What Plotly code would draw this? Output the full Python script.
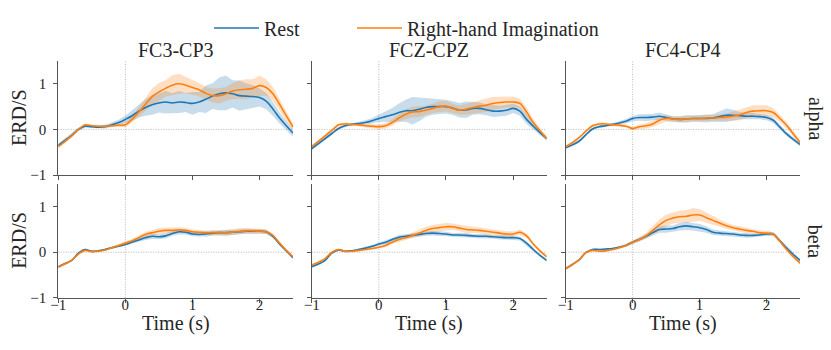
import numpy as np
import plotly.graph_objects as go

# ---------------- data ----------------
TIME = [round(-1.0 + 0.1 * i, 1) for i in range(36)]
CHANNELS = ["FC3-CP3", "FCZ-CPZ", "FC4-CP4"]
BANDS = ["alpha", "beta"]
SERIES = ["Rest", "Right-hand Imagination"]

# alpha band, mean curves
alpha_fc3_rest = [-0.35, -0.24, -0.13, 0.00, 0.07, 0.06, 0.05, 0.06, 0.10, 0.15,
                  0.22, 0.30, 0.40, 0.48, 0.54, 0.58, 0.60, 0.58, 0.60, 0.59,
                  0.57, 0.60, 0.66, 0.73, 0.78, 0.80, 0.78, 0.74, 0.73, 0.72,
                  0.70, 0.62, 0.45, 0.25, 0.08, -0.08]
alpha_fc3_imag = [-0.38, -0.26, -0.14, 0.00, 0.10, 0.08, 0.07, 0.07, 0.08, 0.09,
                  0.10, 0.22, 0.38, 0.55, 0.72, 0.82, 0.90, 0.97, 1.00, 0.97,
                  0.92, 0.87, 0.79, 0.74, 0.74, 0.78, 0.84, 0.87, 0.88, 0.90,
                  0.96, 0.92, 0.78, 0.55, 0.30, 0.05]
alpha_fcz_rest = [-0.42, -0.31, -0.20, -0.09, 0.02, 0.08, 0.11, 0.13, 0.15, 0.19,
                  0.24, 0.28, 0.32, 0.37, 0.41, 0.41, 0.44, 0.48, 0.50, 0.50,
                  0.50, 0.47, 0.42, 0.43, 0.46, 0.46, 0.43, 0.40, 0.40, 0.42,
                  0.46, 0.40, 0.22, 0.07, -0.07, -0.20]
alpha_fcz_imag = [-0.38, -0.26, -0.14, -0.02, 0.10, 0.12, 0.11, 0.10, 0.08, 0.07,
                  0.06, 0.08, 0.15, 0.25, 0.33, 0.38, 0.39, 0.42, 0.46, 0.50,
                  0.51, 0.46, 0.42, 0.44, 0.48, 0.51, 0.53, 0.57, 0.59, 0.60,
                  0.60, 0.57, 0.38, 0.15, -0.03, -0.20]
alpha_fc4_rest = [-0.40, -0.34, -0.26, -0.12, 0.01, 0.06, 0.08, 0.11, 0.14, 0.18,
                  0.24, 0.26, 0.26, 0.27, 0.29, 0.26, 0.23, 0.22, 0.23, 0.24,
                  0.24, 0.24, 0.25, 0.28, 0.31, 0.31, 0.30, 0.29, 0.29, 0.28,
                  0.26, 0.20, 0.05, -0.10, -0.22, -0.33]
alpha_fc4_imag = [-0.38, -0.29, -0.18, -0.04, 0.08, 0.12, 0.12, 0.10, 0.09, 0.07,
                  0.02, 0.06, 0.08, 0.12, 0.20, 0.24, 0.23, 0.22, 0.23, 0.24,
                  0.24, 0.25, 0.25, 0.26, 0.27, 0.29, 0.32, 0.37, 0.40, 0.41,
                  0.41, 0.37, 0.24, 0.09, -0.10, -0.28]

# beta band, mean curves
beta_fc3_rest = [-0.32, -0.25, -0.18, -0.02, 0.06, 0.02, 0.03, 0.06, 0.10, 0.13,
                 0.17, 0.22, 0.27, 0.32, 0.35, 0.34, 0.36, 0.41, 0.45, 0.44,
                 0.40, 0.39, 0.40, 0.42, 0.43, 0.43, 0.44, 0.45, 0.46, 0.46,
                 0.46, 0.45, 0.35, 0.18, 0.03, -0.12]
beta_fc3_imag = [-0.33, -0.26, -0.18, -0.04, 0.04, 0.01, 0.02, 0.05, 0.10, 0.15,
                 0.20, 0.25, 0.32, 0.39, 0.43, 0.46, 0.48, 0.48, 0.49, 0.48,
                 0.45, 0.44, 0.43, 0.43, 0.43, 0.43, 0.44, 0.46, 0.47, 0.47,
                 0.46, 0.45, 0.37, 0.20, 0.04, -0.10]
beta_fcz_rest = [-0.32, -0.26, -0.18, -0.02, 0.05, 0.02, 0.03, 0.06, 0.09, 0.13,
                 0.18, 0.22, 0.28, 0.33, 0.35, 0.37, 0.39, 0.41, 0.42, 0.41,
                 0.40, 0.38, 0.38, 0.37, 0.36, 0.35, 0.35, 0.34, 0.33, 0.32,
                 0.32, 0.30, 0.20, 0.06, -0.07, -0.18]
beta_fcz_imag = [-0.28, -0.22, -0.14, 0.00, 0.06, 0.02, 0.02, 0.04, 0.06, 0.08,
                 0.11, 0.15, 0.22, 0.28, 0.32, 0.37, 0.42, 0.48, 0.52, 0.54,
                 0.56, 0.56, 0.53, 0.50, 0.49, 0.48, 0.46, 0.44, 0.42, 0.40,
                 0.40, 0.44, 0.36, 0.18, 0.03, -0.10]
beta_fc4_rest = [-0.36, -0.27, -0.17, -0.01, 0.06, 0.06, 0.07, 0.08, 0.11, 0.15,
                 0.22, 0.28, 0.35, 0.43, 0.50, 0.51, 0.52, 0.56, 0.58, 0.56,
                 0.54, 0.50, 0.44, 0.42, 0.41, 0.40, 0.38, 0.37, 0.37, 0.38,
                 0.40, 0.40, 0.25, 0.09, -0.05, -0.18]
beta_fc4_imag = [-0.36, -0.27, -0.17, -0.01, 0.04, 0.02, 0.03, 0.06, 0.10, 0.15,
                 0.22, 0.28, 0.36, 0.48, 0.60, 0.70, 0.75, 0.78, 0.79, 0.82,
                 0.82, 0.76, 0.70, 0.64, 0.58, 0.54, 0.51, 0.48, 0.46, 0.43,
                 0.42, 0.40, 0.24, 0.06, -0.10, -0.24]

# half-widths of the shaded spread
alpha_fc3_rest_sd = [0.04, 0.04, 0.04, 0.04, 0.03, 0.03, 0.03, 0.04, 0.05, 0.06,
                     0.08, 0.11, 0.14, 0.18, 0.22, 0.21, 0.25, 0.22, 0.24, 0.21,
                     0.25, 0.22, 0.30, 0.28, 0.36, 0.38, 0.30, 0.33, 0.28, 0.25,
                     0.20, 0.18, 0.15, 0.12, 0.10, 0.08]
alpha_fc3_imag_sd = [0.04, 0.04, 0.04, 0.03, 0.03, 0.03, 0.03, 0.03, 0.04, 0.04,
                     0.05, 0.07, 0.10, 0.14, 0.18, 0.20, 0.18, 0.22, 0.22, 0.18,
                     0.16, 0.15, 0.14, 0.15, 0.17, 0.15, 0.18, 0.20, 0.22, 0.20,
                     0.22, 0.18, 0.15, 0.12, 0.10, 0.08]
alpha_fcz_rest_sd = [0.04, 0.04, 0.04, 0.04, 0.03, 0.03, 0.03, 0.04, 0.05, 0.06,
                     0.08, 0.12, 0.15, 0.20, 0.24, 0.30, 0.26, 0.20, 0.18, 0.17,
                     0.15, 0.15, 0.16, 0.18, 0.14, 0.13, 0.12, 0.13, 0.12, 0.12,
                     0.10, 0.10, 0.10, 0.08, 0.06, 0.05]
alpha_fcz_imag_sd = [0.04, 0.04, 0.03, 0.03, 0.03, 0.03, 0.03, 0.03, 0.04, 0.04,
                     0.05, 0.06, 0.07, 0.08, 0.10, 0.12, 0.12, 0.10, 0.10, 0.12,
                     0.12, 0.10, 0.10, 0.12, 0.13, 0.14, 0.15, 0.14, 0.13, 0.12,
                     0.12, 0.10, 0.10, 0.08, 0.06, 0.05]
alpha_fc4_rest_sd = [0.03, 0.03, 0.03, 0.03, 0.03, 0.03, 0.03, 0.03, 0.04, 0.05,
                     0.06, 0.07, 0.08, 0.07, 0.08, 0.07, 0.06, 0.07, 0.08, 0.07,
                     0.08, 0.09, 0.08, 0.12, 0.15, 0.12, 0.08, 0.07, 0.07, 0.06,
                     0.06, 0.06, 0.05, 0.05, 0.05, 0.04]
alpha_fc4_imag_sd = [0.03, 0.03, 0.03, 0.03, 0.03, 0.03, 0.03, 0.03, 0.03, 0.03,
                     0.04, 0.05, 0.06, 0.07, 0.08, 0.07, 0.06, 0.06, 0.07, 0.06,
                     0.06, 0.07, 0.06, 0.07, 0.08, 0.10, 0.12, 0.12, 0.13, 0.12,
                     0.12, 0.10, 0.08, 0.07, 0.06, 0.05]
beta_fc3_rest_sd = [0.02, 0.02, 0.02, 0.02, 0.02, 0.02, 0.02, 0.02, 0.03, 0.03,
                    0.03, 0.04, 0.04, 0.05, 0.06, 0.05, 0.06, 0.05, 0.06, 0.05,
                    0.05, 0.05, 0.06, 0.05, 0.06, 0.07, 0.06, 0.05, 0.06, 0.05,
                    0.05, 0.05, 0.04, 0.04, 0.03, 0.03]
beta_fc3_imag_sd = [0.02, 0.02, 0.02, 0.02, 0.02, 0.02, 0.02, 0.02, 0.03, 0.03,
                    0.04, 0.04, 0.05, 0.06, 0.06, 0.07, 0.06, 0.07, 0.06, 0.06,
                    0.05, 0.05, 0.05, 0.06, 0.05, 0.06, 0.06, 0.07, 0.06, 0.06,
                    0.06, 0.05, 0.04, 0.04, 0.03, 0.03]
beta_fcz_rest_sd = [0.02, 0.02, 0.02, 0.02, 0.02, 0.02, 0.02, 0.02, 0.03, 0.03,
                    0.03, 0.04, 0.04, 0.05, 0.05, 0.05, 0.05, 0.05, 0.05, 0.05,
                    0.05, 0.04, 0.05, 0.05, 0.04, 0.05, 0.05, 0.04, 0.05, 0.05,
                    0.05, 0.04, 0.04, 0.04, 0.03, 0.03]
beta_fcz_imag_sd = [0.02, 0.02, 0.02, 0.02, 0.02, 0.02, 0.02, 0.02, 0.03, 0.03,
                    0.03, 0.04, 0.04, 0.05, 0.05, 0.06, 0.07, 0.08, 0.08, 0.08,
                    0.08, 0.07, 0.07, 0.08, 0.07, 0.07, 0.06, 0.06, 0.06, 0.06,
                    0.06, 0.06, 0.05, 0.04, 0.03, 0.03]
beta_fc4_rest_sd = [0.02, 0.02, 0.02, 0.02, 0.02, 0.02, 0.02, 0.02, 0.03, 0.03,
                    0.03, 0.04, 0.05, 0.06, 0.07, 0.08, 0.07, 0.08, 0.09, 0.08,
                    0.08, 0.07, 0.06, 0.06, 0.05, 0.05, 0.05, 0.05, 0.04, 0.04,
                    0.04, 0.04, 0.04, 0.04, 0.03, 0.03]
beta_fc4_imag_sd = [0.02, 0.02, 0.02, 0.02, 0.02, 0.02, 0.02, 0.02, 0.03, 0.03,
                    0.04, 0.05, 0.07, 0.10, 0.12, 0.13, 0.12, 0.13, 0.14, 0.15,
                    0.13, 0.11, 0.09, 0.08, 0.07, 0.06, 0.06, 0.06, 0.05, 0.05,
                    0.05, 0.04, 0.04, 0.04, 0.03, 0.03]

PANELS = [
    (alpha_fc3_rest, alpha_fc3_rest_sd, alpha_fc3_imag, alpha_fc3_imag_sd),
    (alpha_fcz_rest, alpha_fcz_rest_sd, alpha_fcz_imag, alpha_fcz_imag_sd),
    (alpha_fc4_rest, alpha_fc4_rest_sd, alpha_fc4_imag, alpha_fc4_imag_sd),
    (beta_fc3_rest, beta_fc3_rest_sd, beta_fc3_imag, beta_fc3_imag_sd),
    (beta_fcz_rest, beta_fcz_rest_sd, beta_fcz_imag, beta_fcz_imag_sd),
    (beta_fc4_rest, beta_fc4_rest_sd, beta_fc4_imag, beta_fc4_imag_sd),
]

X_TICKS = [-1, 0, 1, 2]
X_TICKTEXT = ["\u22121", "0", "1", "2"]
Y_TICKS = [-1, 0, 1]
Y_TICKTEXT = ["\u22121", "0", "1"]

# ---------------- style ----------------
FONT = "Liberation Serif"
TXT = "#262626"
SPINE = "#555555"
COLORS = ["#1f77b4", "#ff7f0e"]
FILLS = ["rgba(31,119,180,0.25)", "rgba(255,127,14,0.25)"]

W, H = 831, 350
ML, MR, MT, MB = 58, 31, 61, 52
PW, PH = W - ML - MR, H - MT - MB


def px_x(p):
    return (p - ML) / PW


def px_y(p):
    return (H - MB - p) / PH


COL_DOM = [[px_x(58.3), px_x(293.0)], [px_x(311.7), px_x(546.7)], [px_x(565.7), px_x(800.0)]]
ROW_DOM = [[px_y(175.0), px_y(61.0)], [px_y(297.7), px_y(184.0)]]

fig = go.Figure()
t = np.array(TIME)
layout = {}
shapes = []
for k, (r_mean, r_sd, i_mean, i_sd) in enumerate(PANELS):
    row, col = divmod(k, 3)
    sfx = "" if k == 0 else str(k + 1)
    xa, ya = "x" + sfx, "y" + sfx
    means = [np.array(r_mean), np.array(i_mean)]
    sds = [np.array(r_sd), np.array(i_sd)]
    for s in range(2):
        up = means[s] + sds[s]
        lo = means[s] - sds[s]
        fig.add_trace(go.Scatter(
            x=np.concatenate([t, t[::-1]]), y=np.concatenate([up, lo[::-1]]),
            fill="toself", fillcolor=FILLS[s], line=dict(width=0),
            mode="lines", hoverinfo="skip", showlegend=False,
            xaxis=xa, yaxis=ya))
    for s in range(2):
        fig.add_trace(go.Scatter(
            x=t, y=means[s], mode="lines", line=dict(color=COLORS[s], width=1.6, shape="spline"),
            name=SERIES[s], showlegend=(k == 0), legend=("legend" if s == 0 else "legend2"),
            xaxis=xa, yaxis=ya))
    common = dict(showgrid=False, zeroline=False, showline=True, linecolor=SPINE, linewidth=1.2,
                  ticks="outside", ticklen=4, tickwidth=1.1, tickcolor=SPINE,
                  tickfont=dict(family=FONT, size=15, color=TXT), mirror=False)
    layout["xaxis" + sfx] = dict(common, domain=COL_DOM[col], anchor=ya, range=[-1, 2.5],
                                 tickvals=X_TICKS, ticktext=X_TICKTEXT,
                                 showticklabels=(row == 1), ticklabelstandoff=-11)
    layout["yaxis" + sfx] = dict(common, domain=ROW_DOM[row], anchor=xa, range=[-1, 1.5],
                                 tickvals=Y_TICKS, ticktext=Y_TICKTEXT,
                                 showticklabels=(col == 0), ticklabelstandoff=4)
    shapes.append(dict(type="line", xref=xa, yref=ya + " domain", x0=0, x1=0, y0=0, y1=1,
                       line=dict(color="#9a9a9a", width=0.7, dash="1px,1.5px"), layer="below"))
    shapes.append(dict(type="line", xref=xa + " domain", yref=ya, x0=0, x1=1, y0=0, y1=0,
                       line=dict(color="#9a9a9a", width=0.7, dash="1px,1.5px"), layer="below"))

annotations = []
col_centers = [sum(d) / 2 for d in COL_DOM]
row_centers = [sum(d) / 2 for d in ROW_DOM]
for c, name in enumerate(CHANNELS):
    annotations.append(dict(text=name, x=col_centers[c], y=px_y(50), xref="paper", yref="paper",
                            showarrow=False, xanchor="center", yanchor="middle",
                            font=dict(family=FONT, size=20, color=TXT)))
    annotations.append(dict(text="Time (s)", x=col_centers[c], y=px_y(323), xref="paper", yref="paper",
                            showarrow=False, xanchor="center", yanchor="middle",
                            font=dict(family=FONT, size=20, color=TXT)))
for r, band in enumerate(BANDS):
    annotations.append(dict(text="ERD/S", x=px_x(19), y=row_centers[r], xref="paper", yref="paper",
                            showarrow=False, xanchor="center", yanchor="middle", textangle=-90,
                            font=dict(family=FONT, size=20, color=TXT)))
    annotations.append(dict(text=band, x=px_x(815), y=row_centers[r], xref="paper", yref="paper",
                            showarrow=False, xanchor="center", yanchor="middle", textangle=90,
                            font=dict(family=FONT, size=20, color=TXT)))

leg_common = dict(orientation="h", yanchor="middle", y=px_y(28), xanchor="left", itemwidth=45,
                  font=dict(family=FONT, size=20, color=TXT), bgcolor="rgba(0,0,0,0)")
fig.update_layout(
    width=W, height=H, margin=dict(l=ML, r=MR, t=MT, b=MB, autoexpand=False),
    plot_bgcolor="white", paper_bgcolor="white",
    font=dict(family=FONT, size=15, color=TXT),
    shapes=shapes, annotations=annotations,
    legend=dict(leg_common, x=px_x(209)),
    legend2=dict(leg_common, x=px_x(352)),
    **layout,
)
fig.write_html("out.html", config={"displayModeBar": False},
               post_script="document.body.style.margin='0px';")
